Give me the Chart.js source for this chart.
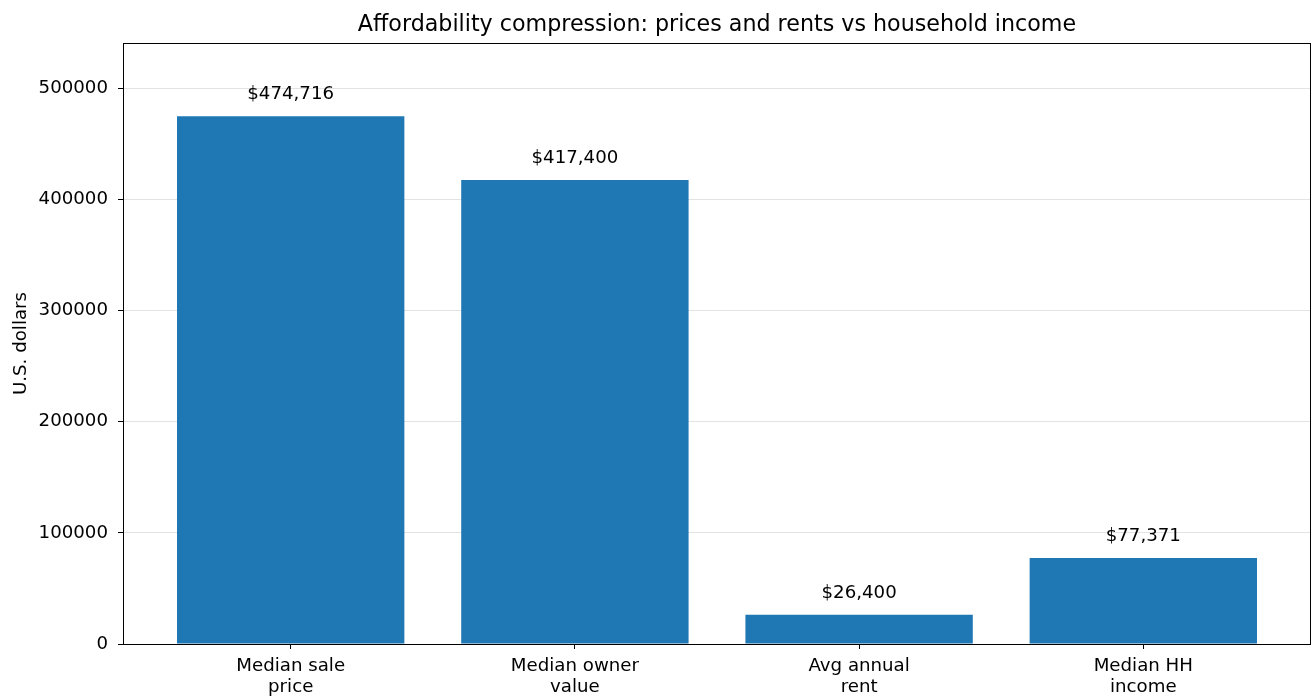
<!DOCTYPE html>
<html>
<head>
<meta charset="utf-8">
<script src="https://cdn.jsdelivr.net/npm/chart.js@4.4.1/dist/chart.umd.min.js"></script>
<style>
  html, body { margin: 0; padding: 0; background: #fff; }
  #wrap { width: 1312px; height: 698px; }
</style>
</head>
<body>
<div id="wrap"><canvas id="c" width="1312" height="698"></canvas></div>
<script>
// Housing cost measures compared with household income (U.S. dollars)
const categories = [
  ['Median sale', 'price'],
  ['Median owner', 'value'],
  ['Avg annual', 'rent'],
  ['Median HH', 'income']
];
const values = [474716, 417400, 26400, 77371];
const yTicks = [0, 100000, 200000, 300000, 400000, 500000];
const yMax = 540500;

const titleText = 'Affordability compression: prices and rents vs household income';
const yLabelText = 'U.S. dollars';

const FONT = 'DejaVu Sans';
const TICK_SIZE = 18.2;
const TITLE_SIZE = 22.2;

const money = v => '$' + v.toLocaleString('en-US');

// Title, y-axis label, value labels and the axes box
const decorations = {
  id: 'decorations',
  afterDatasetsDraw(chart) {
    const ctx = chart.ctx;
    const meta = chart.getDatasetMeta(0);
    ctx.save();
    ctx.fillStyle = '#000';
    ctx.font = TICK_SIZE + 'px "' + FONT + '"';
    ctx.textAlign = 'center';
    ctx.textBaseline = 'alphabetic';
    meta.data.forEach((bar, i) => {
      ctx.fillText(money(values[i]), bar.x, bar.y - 17);
    });
    ctx.restore();
  },
  afterDraw(chart) {
    const ctx = chart.ctx;
    const a = chart.chartArea;
    ctx.save();
    ctx.strokeStyle = '#000';
    ctx.lineWidth = 1;
    ctx.strokeRect(a.left + 0.5, a.top + 0.5, a.right - a.left - 1, a.bottom - a.top);

    ctx.fillStyle = '#000';
    ctx.font = TITLE_SIZE + 'px "' + FONT + '"';
    ctx.textAlign = 'center';
    ctx.textBaseline = 'alphabetic';
    ctx.fillText(titleText, (a.left + a.right) / 2, 31);

    ctx.font = TICK_SIZE + 'px "' + FONT + '"';
    ctx.translate(21, (a.top + a.bottom) / 2);
    ctx.rotate(-Math.PI / 2);
    ctx.textBaseline = 'middle';
    ctx.fillText(yLabelText, 0, 0);
    ctx.restore();
  }
};

new Chart(document.getElementById('c'), {
  type: 'bar',
  data: {
    datasets: [{
      data: values.map((v, i) => ({ x: i, y: v })),
      backgroundColor: '#1f77b4',
      borderWidth: 0,
      categoryPercentage: 1.0,
      barPercentage: 0.8
    }]
  },
  options: {
    responsive: false,
    animation: false,
    layout: { padding: { top: 43, right: 1, bottom: 0, left: 0 } },
    plugins: {
      legend: { display: false },
      title: { display: false },
      tooltip: { enabled: false }
    },
    scales: {
      x: {
        type: 'linear',
        offset: false,
        min: -0.59,
        max: 3.59,
        afterBuildTicks: s => { s.ticks = categories.map((_, i) => ({ value: i })); },
        afterFit: s => { s.height = 54; },
        border: { display: false },
        grid: { offset: false, drawOnChartArea: false, drawTicks: true, tickLength: 5, tickColor: '#000', tickWidth: 1 },
        ticks: {
          color: '#000',
          font: { family: FONT, size: TICK_SIZE, lineHeight: 1.19 },
          padding: 6,
          maxRotation: 0,
          autoSkip: false,
          callback: v => categories[v]
        }
      },
      y: {
        min: 0,
        max: yMax,
        z: 1,
        afterBuildTicks: s => { s.ticks = yTicks.map(v => ({ value: v })); },
        afterFit: s => { s.width = 123; },
        border: { display: false },
        grid: { color: 'rgba(176,176,176,0.35)', lineWidth: 1, drawTicks: true, tickLength: 5, tickColor: '#000', tickWidth: 1 },
        ticks: {
          color: '#000',
          font: { family: FONT, size: TICK_SIZE },
          padding: 10,
          callback: v => String(v)
        }
      }
    }
  },
  plugins: [decorations]
});
</script>
</body>
</html>
